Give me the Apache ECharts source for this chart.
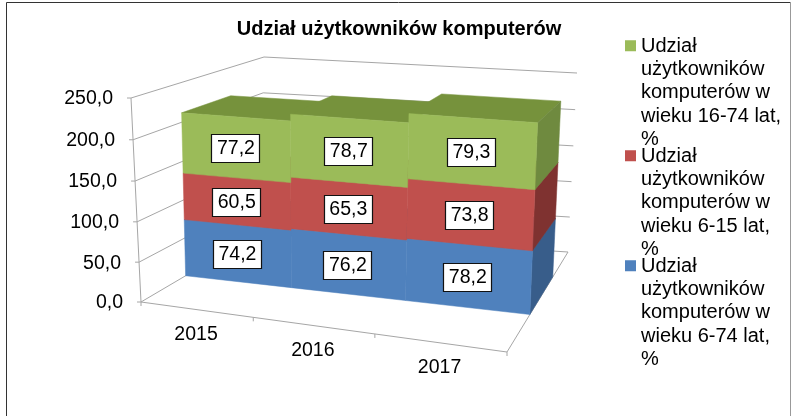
<!DOCTYPE html>
<html>
<head>
<meta charset="utf-8">
<style>
    html, body { margin: 0; padding: 0; background: #fff; }
    #chart { width: 791px; height: 416px; }
</style>
</head>
<body>
<div id="chart"></div>
<script src="https://cdn.jsdelivr.net/npm/echarts@6/dist/echarts.min.js"></script>
<script>
const categories = ['2015', '2016', '2017'];
const valueTicks = [0, 50, 100, 150, 200, 250];
const name6to74 = 'Udział\nużytkowników\nkomputerów w\nwieku 6-74 lat,\n%';
const name6to15 = 'Udział\nużytkowników\nkomputerów w\nwieku 6-15 lat,\n%';
const name16to74 = 'Udział\nużytkowników\nkomputerów w\nwieku 16-74 lat,\n%';
const values6to74 = [74.2, 76.2, 78.2];
const values6to15 = [60.5, 65.3, 73.8];
const values16to74 = [77.2, 78.7, 79.3];

const FONT = '"Liberation Sans", Arial, sans-serif';
const LINE = '#a6a6a6';

// corners of the 3d box on screen, [u][v][w] (u: right, v: up, w: depth)
const box = [
    [[[141, 302], [260, 232]], [[131, 98], [264, 57]]],
    [[[507, 352], [568, 252]], [[515, 127], [577, 73]]]
];
const BAR_FRONT = 0.375;
const BAR_BACK = 0.75;

function warp(t, k) {
    return t / (1 + k * (1 - t));
}

// unit box position -> screen, foreshortening along u and v
function project(u, v, w) {
    const U = warp(u, 0.13);
    const V = warp(v, 0.03);
    const pt = [0, 0];
    for (let a = 0; a < 2; a++) {
        for (let b = 0; b < 2; b++) {
            for (let c = 0; c < 2; c++) {
                const f = (a ? U : 1 - U) * (b ? V : 1 - V) * (c ? w : 1 - w);
                pt[0] += f * box[a][b][c][0];
                pt[1] += f * box[a][b][c][1];
            }
        }
    }
    return pt;
}

function formatValue(v) {
    return v.toFixed(1).replace('.', ',');
}

// grid pixel from the axes -> unit box position
function unitX(params, api, cat, side) {
    const cs = params.coordSys;
    return (api.coord([cat, 0])[0] + side * api.size([1, 0])[0] - cs.x) / cs.width;
}
function unitY(params, api, value) {
    const cs = params.coordSys;
    return (cs.y + cs.height - api.coord([0, value])[1]) / cs.height;
}

function seg(a, b) {
    return {
        type: 'line',
        shape: { x1: a[0], y1: a[1], x2: b[0], y2: b[1] },
        style: { stroke: LINE, lineWidth: 1 }
    };
}

function renderFrame(params, api) {
    const kids = [];
    valueTicks.forEach(function (tick) {
        const v = unitY(params, api, tick);
        const p = project(0, v, 0);
        kids.push(seg(p, project(0, v, 1)));
        kids.push(seg(project(0, v, 1), project(1, v, 1)));
        kids.push(seg(p, [p[0] - 4, p[1]]));
        kids.push({
            type: 'text',
            style: {
                text: formatValue(tick), x: p[0] - 18, y: p[1] + 1,
                align: 'right', verticalAlign: 'middle', fill: '#000', font: '19.5px ' + FONT
            }
        });
    });
    kids.push(seg(project(0, 0, 0), project(0, 1, 0)));
    kids.push(seg(project(0, 0, 0), project(1, 0, 0)));
    kids.push(seg(project(1, 0, 0), project(1, 0, 1)));
    categories.forEach(function (c, i) {
        const left = project(unitX(params, api, i, -0.5), 0, 0);
        const mid = project(unitX(params, api, i, 0), 0, 0);
        kids.push(seg(left, [left[0], left[1] + 4]));
        kids.push({
            type: 'text',
            style: {
                text: c, x: mid[0], y: mid[1] + 25,
                align: 'center', verticalAlign: 'middle', fill: '#000', font: '19.5px ' + FONT
            }
        });
    });
    const end = project(1, 0, 0);
    kids.push(seg(end, [end[0], end[1] + 4]));
    return { type: 'group', children: kids };
}

function makeRenderBar(front, side, top) {
    return function (params, api) {
        const cat = api.value(0);
        const base = api.value(1);
        const value = api.value(2);
        const u0 = unitX(params, api, cat, -0.5);
        const u1 = unitX(params, api, cat, 0.5);
        const v0 = unitY(params, api, base);
        const v1 = unitY(params, api, base + value);
        const face = function (pts, fill) {
            return {
                type: 'polygon',
                shape: { points: pts },
                style: { fill: fill, stroke: fill, lineWidth: 0.5 }
            };
        };
        const kids = [];
        kids.push(face([project(u0, v1, BAR_FRONT), project(u1, v1, BAR_FRONT),
            project(u1, v1, BAR_BACK), project(u0, v1, BAR_BACK)], top));
        if (cat === categories.length - 1) {
            kids.push(face([project(u1, v0, BAR_FRONT), project(u1, v0, BAR_BACK),
                project(u1, v1, BAR_BACK), project(u1, v1, BAR_FRONT)], side));
        }
        kids.push(face([project(u0, v0, BAR_FRONT), project(u1, v0, BAR_FRONT),
            project(u1, v1, BAR_FRONT), project(u0, v1, BAR_FRONT)], front));
        const c = project((u0 + u1) / 2, (v0 + v1) / 2, BAR_FRONT);
        kids.push({
            type: 'rect',
            shape: { x: Math.round(c[0] - 24) + 0.5, y: Math.round(c[1] - 13) + 0.5, width: 48, height: 28 },
            style: { fill: '#fff', stroke: '#111', lineWidth: 1.2 },
            z2: 10
        });
        kids.push({
            type: 'text',
            style: {
                text: formatValue(value), x: c[0] + 0.5, y: c[1] + 1.5,
                align: 'center', verticalAlign: 'middle', fill: '#000', font: '19.5px ' + FONT
            },
            z2: 11
        });
        return { type: 'group', children: kids };
    };
}

function barData(values, below) {
    return values.map(function (v, i) {
        return [i, below.reduce(function (sum, arr) { return sum + arr[i]; }, 0), v];
    });
}

const myChart = echarts.init(document.getElementById('chart'), null, { renderer: 'canvas' });
myChart.setOption({
    animation: false,
    backgroundColor: '#fff',
    title: {
        text: 'Udział użytkowników komputerów',
        left: 394,
        top: 14,
        textAlign: 'center',
        textStyle: { fontFamily: FONT, fontSize: 20, fontWeight: 'bold', color: '#000' }
    },
    legend: {
        orient: 'vertical',
        left: 625,
        top: 34.6,
        padding: 0,
        itemWidth: 11,
        itemHeight: 116,
        itemGap: -6.5,
        selectedMode: false,
        icon: 'path://M0 5.4H11V16.4H0Z M0 0H0Z M0 116H0Z',
        data: [name16to74, name6to15, name6to74],
        textStyle: { fontFamily: FONT, fontSize: 20, lineHeight: 23.3, color: '#000' }
    },
    grid: { left: 141, top: 98, width: 366, height: 204 },
    xAxis: { type: 'category', data: categories, show: false },
    yAxis: { type: 'value', min: 0, max: 250, interval: 50, show: false },
    graphic: [
        { type: 'line', shape: { x1: 6.5, y1: 2.5, x2: 790.5, y2: 2.5 }, style: { stroke: '#333', lineWidth: 1 } },
        { type: 'line', shape: { x1: 6.5, y1: 2.5, x2: 6.5, y2: 416 }, style: { stroke: '#333', lineWidth: 1 } },
        { type: 'line', shape: { x1: 790.5, y1: 2.5, x2: 790.5, y2: 416 }, style: { stroke: '#999', lineWidth: 1 } }
    ],
    series: [
        { type: 'custom', name: 'frame', silent: true, clip: false, z: 1, renderItem: renderFrame, data: [[0, 0]] },
        {
            type: 'custom', name: name6to74, silent: true, z: 2,
            itemStyle: { color: '#4f81bd' },
            renderItem: makeRenderBar('#4f81bd', '#385d8a', '#385d8a'),
            encode: { x: 0, y: 2 },
            data: barData(values6to74, [])
        },
        {
            type: 'custom', name: name6to15, silent: true, z: 3,
            itemStyle: { color: '#c0504d' },
            renderItem: makeRenderBar('#c0504d', '#7f3230', '#8c3836'),
            encode: { x: 0, y: 2 },
            data: barData(values6to15, [values6to74])
        },
        {
            type: 'custom', name: name16to74, silent: true, z: 4,
            itemStyle: { color: '#9bbb59' },
            renderItem: makeRenderBar('#9bbb59', '#6f8a3f', '#76923c'),
            encode: { x: 0, y: 2 },
            data: barData(values16to74, [values6to74, values6to15])
        }
    ]
});
</script>
</body>
</html>
